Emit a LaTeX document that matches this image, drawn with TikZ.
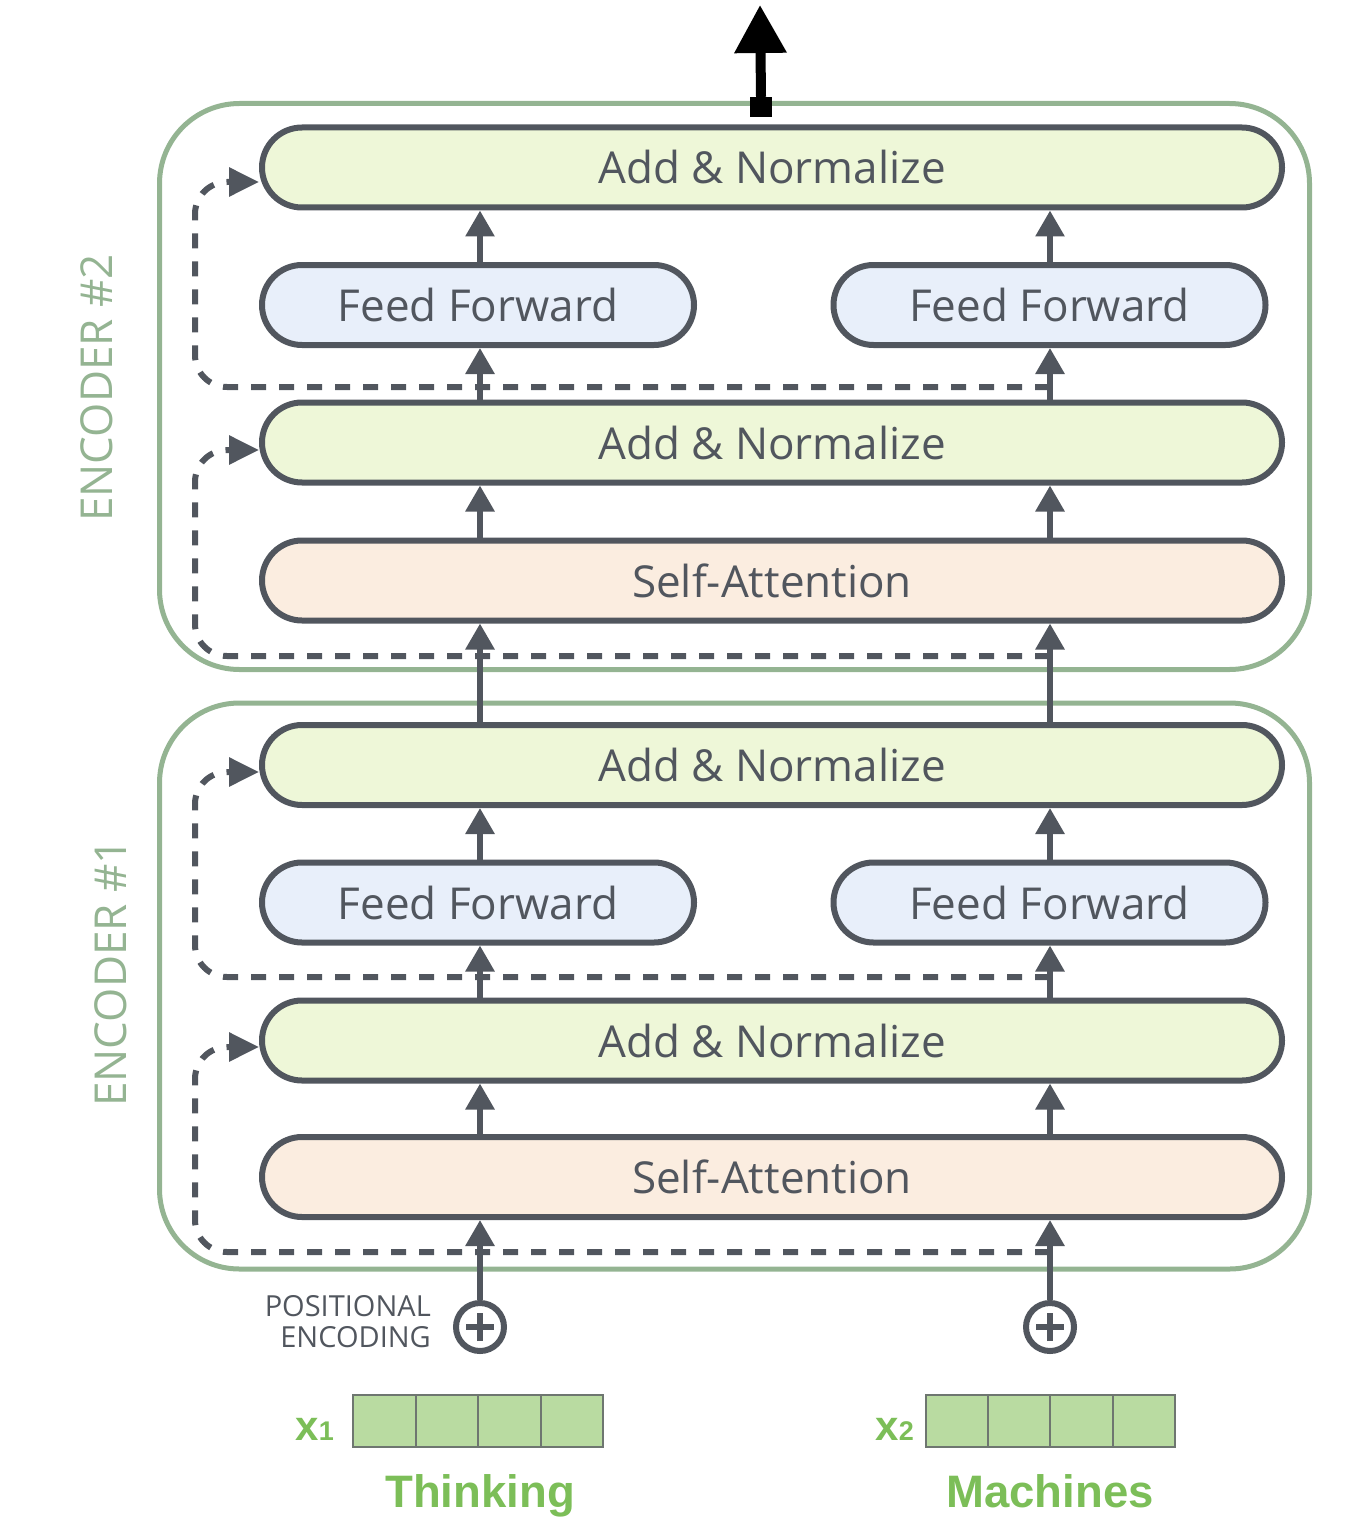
\documentclass[tikz,border=0pt]{standalone}
\usepackage{fontspec}
\setmainfont{Open Sans}
\newfontfamily\labelfont{Liberation Sans}
\usetikzlibrary{arrows.meta}
\definecolor{ink}{RGB}{81,86,94}
\definecolor{anfill}{RGB}{238,247,216}
\definecolor{fffill}{RGB}{232,239,250}
\definecolor{safill}{RGB}{251,237,224}
\definecolor{encgreen}{RGB}{148,180,146}
\definecolor{cellfill}{RGB}{185,219,161}
\definecolor{cellline}{RGB}{110,118,112}
\definecolor{wordgreen}{RGB}{124,190,88}
\begin{document}
\begin{tikzpicture}[x=1pt,y=-1pt,
  block/.style={draw=ink, line width=6pt, rounded corners=40pt, minimum height=80pt,
    inner sep=0pt, text=ink, font=\fontsize{44}{52}\selectfont},
  addnorm/.style={block, fill=anfill, minimum width=1020pt},
  ffbox/.style={block, fill=fffill, minimum width=432pt},
  sabox/.style={block, fill=safill, minimum width=1020pt},
  encframe/.style={draw=encgreen, line width=5pt, rounded corners=80pt,
    minimum width=1150pt, minimum height=566pt, inner sep=0pt},
  enclabel/.style={rotate=90, text=encgreen, font=\fontsize{44}{52}\selectfont},
  flow/.style={draw=ink, line width=6pt, -{Triangle[width=28pt,length=26pt]}},
  skip/.style={draw=ink, line width=6pt, dash pattern=on 15pt off 13pt,
    rounded corners=32pt, -{Triangle[width=28pt,length=30pt]}},
  plusnode/.style={circle, draw=ink, line width=6pt, minimum size=48pt, inner sep=0pt},
  cell/.style={draw=cellline, fill=cellfill, line width=2pt, minimum width=62.5pt,
    minimum height=52pt, inner sep=0pt, outer sep=0pt},
  word/.style={anchor=base, text=wordgreen, font=\labelfont\bfseries\fontsize{45.5}{52}\selectfont},
  vlabel/.style={anchor=base east, text=wordgreen, inner sep=0pt, font=\labelfont\bfseries}
]
\useasboundingbox (0,0) rectangle (1354,1522);

% encoder frames
\node[encframe] (enc2) at (734.5,386.5) {};
\node[encframe] (enc1) at (734.5,986) {};
\node[enclabel] (enc2lab) at (97,388) {ENCODER \#2};
\node[enclabel] (enc1lab) at (111,973) {ENCODER \#1};

% column positions
\coordinate (c1) at (480,0);
\coordinate (c2) at (1050,0);

% encoder 2
\node[addnorm] (AN4) at (772,167.5) {Add \& Normalize};
\node[ffbox] (FF2L) at (478,305) {Feed Forward};
\node[ffbox] (FF2R) at (1049.5,305) {Feed Forward};
\node[addnorm] (AN3) at (772,442.5) {Add \& Normalize};
\node[sabox] (SA2) at (772,580.5) {Self-Attention};

% encoder 1
\node[addnorm] (AN2) at (772,765) {Add \& Normalize};
\node[ffbox] (FF1L) at (478,902.5) {Feed Forward};
\node[ffbox] (FF1R) at (1049.5,902.5) {Feed Forward};
\node[addnorm] (AN1) at (772,1040.5) {Add \& Normalize};
\node[sabox] (SA1) at (772,1177) {Self-Attention};

% positional encoding
\node[plusnode] (pe1) at (480,1327) {};
\node[plusnode] (pe2) at (1050,1327) {};
\foreach \p in {pe1,pe2}{
  \draw[ink, line width=6pt] ([xshift=-14pt]\p.center) -- ([xshift=14pt]\p.center);
  \draw[ink, line width=6pt] ([yshift=-14pt]\p.center) -- ([yshift=14pt]\p.center);
}
\node[anchor=east, align=right, text=ink, inner sep=0pt,
  font=\fontsize{29}{31}\selectfont] (poslab) at (431,1322) {POSITIONAL\\ENCODING};

% residual connections
\coordinate (r4) at (1050,387);
\coordinate (r3) at (1050,656);
\coordinate (r2) at (1050,977);
\coordinate (r1) at (1050,1252);
\draw[skip] (r4) -- (195,387) -- (195,182) -- ([yshift=-14.5pt]AN4.west);
\draw[skip] (r3) -- (195,656) -- (195,450) -- ([yshift=-7.5pt]AN3.west);
\draw[skip] (r2) -- (195,977) -- (195,772) -- ([yshift=-7pt]AN2.west);
\draw[skip] (r1) -- (195,1252) -- (195,1047) -- ([yshift=-6.5pt]AN1.west);

% data flow, left column
\draw[flow] (pe1.north) -- (SA1.south -| c1);
\draw[flow] (SA1.north -| c1) -- (AN1.south -| c1);
\draw[flow] (AN1.north -| c1) -- (FF1L.south -| c1);
\draw[flow] (FF1L.north -| c1) -- (AN2.south -| c1);
\draw[flow] (AN2.north -| c1) -- (SA2.south -| c1);
\draw[flow] (SA2.north -| c1) -- (AN3.south -| c1);
\draw[flow] (AN3.north -| c1) -- (FF2L.south -| c1);
\draw[flow] (FF2L.north -| c1) -- (AN4.south -| c1);

% data flow, right column
\draw[flow] (pe2.north) -- (SA1.south -| c2);
\draw[flow] (SA1.north -| c2) -- (AN1.south -| c2);
\draw[flow] (AN1.north -| c2) -- (FF1R.south -| c2);
\draw[flow] (FF1R.north -| c2) -- (AN2.south -| c2);
\draw[flow] (AN2.north -| c2) -- (SA2.south -| c2);
\draw[flow] (SA2.north -| c2) -- (AN3.south -| c2);
\draw[flow] (AN3.north -| c2) -- (FF2R.south -| c2);
\draw[flow] (FF2R.north -| c2) -- (AN4.south -| c2);

% output
\node[fill=black, minimum width=22pt, minimum height=20pt, inner sep=0pt] (outsq) at (761,107) {};
\coordinate (outtip) at (760,5);
\draw[black, line width=10pt, -{Triangle[width=50pt,length=48pt]}] (outsq.north) -- (outtip);

% input embeddings
\foreach \i in {0,1,2,3}{
  \pgfmathsetmacro{\xa}{353+62.5*\i+31.25}
  \pgfmathsetmacro{\xb}{926+62.25*\i+31.1}
  \node[cell] (ea\i) at (\xa,1421) {};
  \node[cell, minimum width=62.25pt] (eb\i) at (\xb,1421) {};
}
\node[vlabel] (x1) at (334,1440) {\fontsize{42}{44}\selectfont x\fontsize{27}{30}\selectfont 1};
\node[vlabel] (x2) at (914,1440) {\fontsize{42}{44}\selectfont x\fontsize{27}{30}\selectfont 2};
\node[word] (w1) at (480,1507) {Thinking};
\node[word] (w2) at (1050,1507) {Machines};
\end{tikzpicture}
\end{document}
